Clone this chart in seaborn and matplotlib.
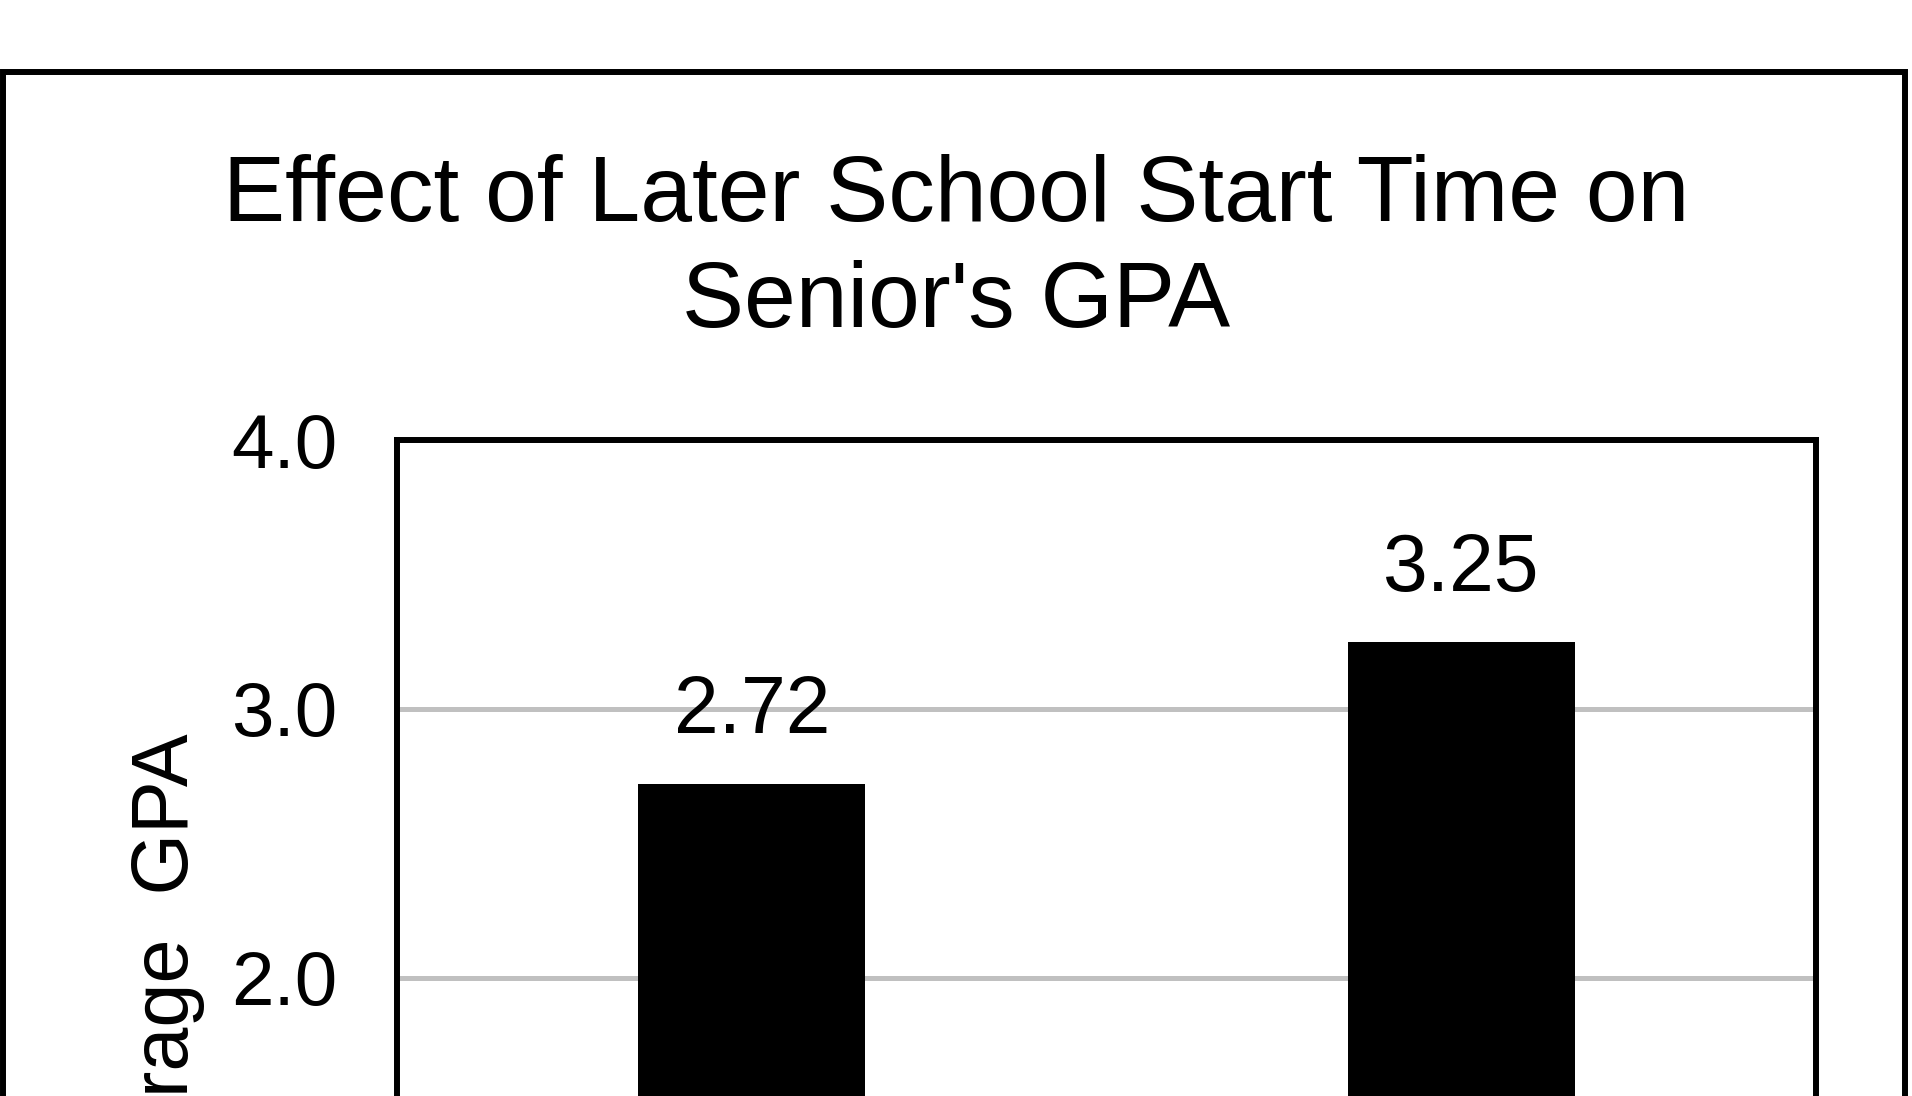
import matplotlib
matplotlib.use("Agg")
import matplotlib.pyplot as plt
import seaborn as sns
import pandas as pd
from matplotlib.patches import Rectangle

# ---- data ----
categories = ["Earlier Start Time", "Later Start Time"]
gpa = [2.72, 3.25]
y_ticks = [0.0, 1.0, 2.0, 3.0, 4.0]
title_lines = ["Effect of Later School Start Time on", "Senior's GPA"]
y_label = "Average  GPA"

sns.set_theme(style="white")
plt.rcParams['font.family'] = ['Liberation Sans', 'DejaVu Sans']

W, H = 1912, 1096
fig = plt.figure(figsize=(W / 100, H / 100), dpi=100)
fig.patch.set_facecolor("white")

ax = fig.add_axes([397 / W, 1 - 1515 / H, (1816 - 397) / W, (1515 - 440) / H])
df = pd.DataFrame({"cat": categories, "gpa": gpa})
sns.barplot(data=df, x="cat", y="gpa", color="black", saturation=1,
            width=0.32, ax=ax, linewidth=0, edgecolor="none", errorbar=None)

ax.set_xlim(-0.5, 1.5)
ax.set_ylim(0, 4)
ax.set_yticks(y_ticks)
ax.set_yticklabels([f"{v:.1f}" for v in y_ticks])
ax.tick_params(axis="y", length=0, pad=43, labelsize=55, labelcolor="black")
ax.tick_params(axis="x", length=0, labelsize=55, labelcolor="black")
ax.set_facecolor("white")
ax.yaxis.grid(True, color="#c0c0c0", linewidth=3.6)
ax.xaxis.grid(False)
ax.set_axisbelow(True)
for s in ax.spines.values():
    s.set_visible(True)
    s.set_color("black")
    s.set_linewidth(4.3)

ax.set_xlabel("")
ax.set_ylabel(y_label, fontsize=57, color="black")
ax.yaxis.set_label_coords(-0.1353, 0.495)

for c in ax.containers:
    ax.bar_label(c, fmt="%.2f", padding=24.5, fontsize=58, color="black")

fig.text(0.5, 1 - 221 / H, title_lines[0], ha="center", va="baseline",
         fontsize=67, color="black")
fig.text(0.5, 1 - 327 / H, title_lines[1], ha="center", va="baseline",
         fontsize=67, color="black")

fig.add_artist(Rectangle((3 / W, -0.3), (1905 - 3) / W, (1 - 72 / H) + 0.3,
                         transform=fig.transFigure, fill=False,
                         edgecolor="black", linewidth=4.3, zorder=10))

fig.savefig("out.png", dpi=100, facecolor="white")
